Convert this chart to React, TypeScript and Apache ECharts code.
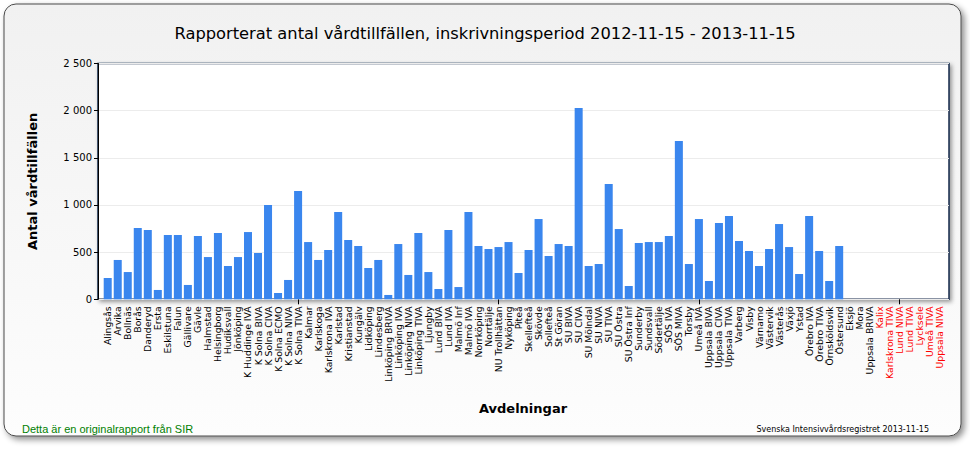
import React, { useEffect, useRef } from "react";
import * as echarts from "echarts";

const categories = [
  "Alingsås", "Arvika", "Bollnäs", "Borås", "Danderyd", "Ersta", "Eskilstuna", "Falun", "Gällivare", "Gävle",
  "Halmstad", "Helsingborg", "Hudiksvall", "Jönköping", "K Huddinge IVA", "K Solna BIVA", "K Solna CIVA", "K Solna ECMO", "K Solna NIVA", "K Solna TIVA",
  "Kalmar", "Karlskoga", "Karlskrona IVA", "Karlstad", "Kristianstad", "Kungälv", "Lidköping", "Lindesberg", "Linköping BRIVA", "Linköping IVA",
  "Linköping NIVA", "Linköping TIVA", "Ljungby", "Lund BIVA", "Lund IVA", "Malmö Inf", "Malmö IVA", "Norrköping", "Norrtälje", "NU Trollhättan",
  "Nyköping", "Piteå", "Skellefteå", "Skövde", "Sollefteå", "St Göran", "SU BIVA", "SU CIVA", "SU Mölndal", "SU NIVA",
  "SU TIVA", "SU Östra", "SU Östra Inf", "Sunderby", "Sundsvall", "Södertälje", "SÖS IVA", "SÖS MIVA", "Torsby", "Umeå IVA",
  "Uppsala BIVA", "Uppsala CIVA", "Uppsala TIVA", "Varberg", "Visby", "Värnamo", "Västervik", "Västerås", "Växjö", "Ystad",
  "Örebro IVA", "Örebro TIVA", "Örnsköldsvik", "Östersund", "Eksjö", "Mora", "Uppsala BRIVA", "Kalix", "Karlskrona TIVA", "Lund NIVA",
  "Lund TIVA", "Lycksele", "Umeå TIVA", "Uppsala NIVA",
];

const redCategories = ["Kalix", "Karlskrona TIVA", "Lund NIVA", "Lund TIVA", "Lycksele", "Umeå TIVA", "Uppsala NIVA"];

const values = [
  226, 417, 289, 756, 735, 99, 682, 682, 152, 671,
  448, 703, 353, 448, 713, 491, 1000, 67, 205, 1148,
  607, 417, 523, 925, 629, 565, 332, 417, 46, 586,
  258, 703, 289, 109, 735, 130, 925, 565, 533, 554,
  607, 279, 523, 851, 459, 586, 565, 2028, 353, 374,
  1222, 745, 141, 597, 607, 607, 671, 1678, 374, 851,
  194, 809, 883, 618, 512, 353, 533, 798, 554, 268,
  883, 512, 194, 565, 0, 0, 0, 0, 0, 0,
  0, 0, 0, 0,
];

const yTicks = [0, 500, 1000, 1500, 2000, 2500];

const title = "Rapporterat antal vårdtillfällen, inskrivningsperiod 2012-11-15 - 2013-11-15";
const yName = "Antal vårdtillfällen";
const xName = "Avdelningar";
const footerLeft = "Detta är en originalrapport från SIR";
const footerRight = "Svenska Intensivvårdsregistret 2013-11-15";

const FONT = "DejaVu Sans";

export default function App() {
  const ref = useRef<HTMLDivElement>(null);
  useEffect(() => {
    document.body.style.margin = "0";
    const chart = echarts.init(ref.current!, null, { renderer: "svg" });
    const yMax = yTicks[yTicks.length - 1];
    const yInterval = yTicks[1] - yTicks[0];
    const fmt = (v: number) => String(v).replace(/\B(?=(\d{3})+(?!\d))/g, " ");
    chart.setOption({
      animation: false,
      backgroundColor: "#ffffff",
      title: {
        text: title,
        left: "center",
        top: 20,
        textStyle: { fontFamily: FONT, fontSize: 16.3, fontWeight: "normal", color: "#000" },
      },
      graphic: [
        {
          type: "rect",
          z: -10,
          shape: { x: 4, y: 4, width: 957, height: 432, r: 12 },
          style: {
            fill: new echarts.graphic.LinearGradient(0, 0, 0, 1, [
              { offset: 0, color: "#f1f1f1" },
              { offset: 1, color: "#fdfdfd" },
            ]),
            stroke: "#4a4a4a",
            lineWidth: 1,
            shadowBlur: 6,
            shadowOffsetX: 3,
            shadowOffsetY: 3,
            shadowColor: "rgba(0,0,0,0.45)",
          },
        },
        {
          type: "text",
          x: 523,
          y: 408,
          style: { text: xName, fontFamily: FONT, fontSize: 13, fontWeight: "bold", fill: "#000", align: "center", verticalAlign: "middle" },
        },
        {
          type: "text",
          x: 22,
          y: 429,
          style: { text: footerLeft, fontFamily: "Liberation Sans", fontSize: 11, fill: "#008000", align: "left", verticalAlign: "middle" },
        },
        {
          type: "text",
          x: 929,
          y: 429,
          style: { text: footerRight, fontFamily: FONT, fontSize: 8, fill: "#000", align: "right", verticalAlign: "middle" },
        },
      ],
      grid: [
        {
          left: 98, right: 21, top: 63.5, bottom: 150.7,
          show: true, backgroundColor: "#ffffff", borderColor: "#16284a", borderWidth: 1.5,
          shadowBlur: 4, shadowOffsetX: 2, shadowOffsetY: 2, shadowColor: "rgba(0,0,0,0.4)",
        },
        { left: 102.7, right: 25.6, top: 63.5, bottom: 150.7 },
      ],
      xAxis: [
        { gridIndex: 0, type: "value", min: 0, max: 1, show: false },
        {
          gridIndex: 1,
          type: "category",
          data: categories,
          axisLine: { show: false },
          axisTick: {
            show: true,
            alignWithLabel: true,
            length: 5,
            interval: (i: number) => (i + 1) % 20 === 0,
            lineStyle: { color: "#000" },
          },
          axisLabel: {
            interval: 0,
            rotate: 90,
            margin: 7,
            fontFamily: FONT,
            fontSize: 9.3,
            color: (v: string) => (redCategories.includes(v) ? "#ff0000" : "#000000"),
          },
        },
      ],
      yAxis: [
        {
          gridIndex: 0,
          type: "value",
          min: 0,
          max: yMax,
          interval: yInterval,
          name: yName,
          nameLocation: "middle",
          nameGap: 59,
          nameRotate: 90,
          nameTextStyle: { fontFamily: FONT, fontSize: 13, fontWeight: "bold", color: "#000" },
          axisLine: { show: true, lineStyle: { color: "#000", width: 1 } },
          axisTick: { show: true, length: 4, lineStyle: { color: "#000" } },
          axisLabel: { formatter: fmt, fontFamily: FONT, fontSize: 10, color: "#000", margin: 6 },
          splitLine: { show: true, lineStyle: { color: "#ececec", width: 1 } },
        },
        { gridIndex: 1, type: "value", min: 0, max: yMax, show: false },
      ],
      series: [
        {
          type: "bar",
          xAxisIndex: 1,
          yAxisIndex: 1,
          data: values,
          barCategoryGap: "20%",
          itemStyle: { color: "#3a86ee" },
        },
      ],
    });
    return () => chart.dispose();
  }, []);
  return <div ref={ref} style={{ width: 970, height: 450 }} />;
}
